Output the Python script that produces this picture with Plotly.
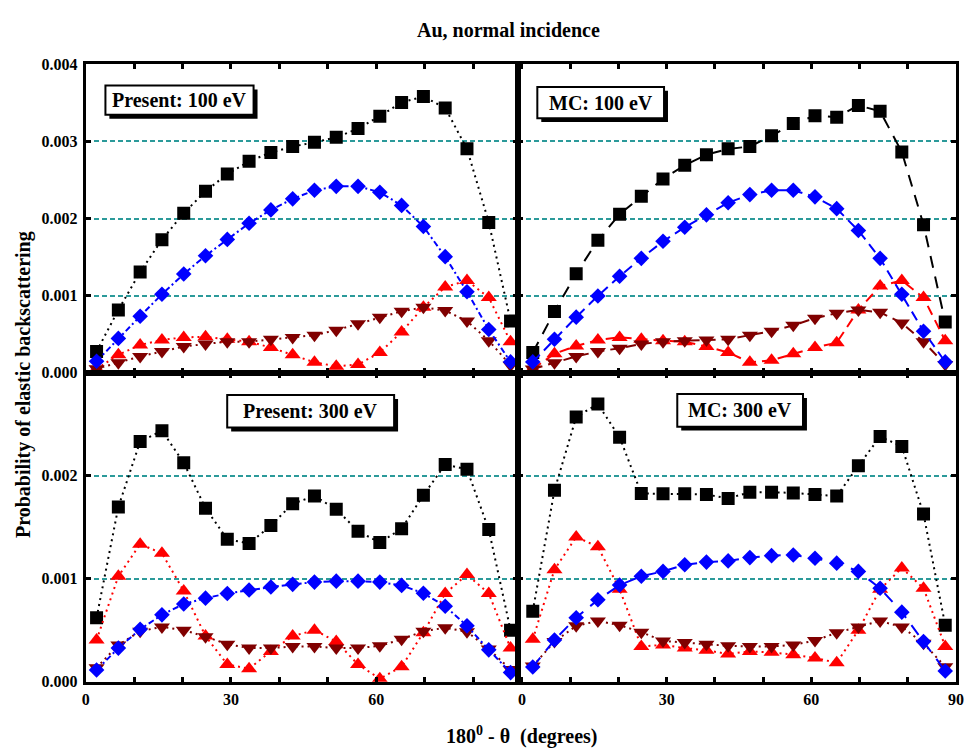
import plotly.graph_objects as go

# Scattering angle bins, 180° - θ (degrees)
angle = [2.25, 6.75, 11.25, 15.75, 20.25, 24.75, 29.25, 33.75, 38.25, 42.75,
         47.25, 51.75, 56.25, 60.75, 65.25, 69.75, 74.25, 78.75, 83.25, 87.75]

# --- Present model, 100 eV (values in units of 1e-3) ---
p100_black = [0.277, 0.816, 1.306, 1.726, 2.069, 2.353, 2.577, 2.742, 2.856, 2.933,
              2.988, 3.052, 3.166, 3.327, 3.505, 3.581, 3.433, 2.903, 1.950, 0.671]
p100_blue = [0.150, 0.447, 0.734, 1.019, 1.281, 1.518, 1.730, 1.938, 2.112, 2.255,
             2.366, 2.417, 2.417, 2.341, 2.170, 1.896, 1.506, 1.052, 0.562, 0.142]
p100_red = [0.050, 0.235, 0.362, 0.426, 0.460, 0.468, 0.435, 0.404, 0.328, 0.235,
            0.137, 0.086, 0.108, 0.264, 0.531, 0.849, 1.112, 1.197, 0.976, 0.404]
p100_dred = [0.053, 0.130, 0.213, 0.277, 0.341, 0.375, 0.404, 0.404, 0.435, 0.460,
             0.489, 0.553, 0.638, 0.722, 0.798, 0.849, 0.807, 0.671, 0.417, 0.100]

# --- MC, 100 eV ---
m100_black = [0.264, 0.794, 1.286, 1.718, 2.056, 2.290, 2.513, 2.691, 2.827, 2.903,
              2.933, 3.072, 3.230, 3.332, 3.314, 3.466, 3.390, 2.862, 1.921, 0.658]
m100_blue = [0.142, 0.435, 0.722, 0.997, 1.252, 1.484, 1.705, 1.887, 2.048, 2.205,
             2.310, 2.366, 2.366, 2.281, 2.128, 1.845, 1.484, 1.019, 0.540, 0.142]
m100_red = [0.050, 0.248, 0.349, 0.426, 0.460, 0.435, 0.417, 0.404, 0.341, 0.264,
            0.137, 0.163, 0.248, 0.328, 0.391, 0.816, 1.125, 1.197, 0.976, 0.417]
m100_dred = [0.050, 0.130, 0.213, 0.277, 0.320, 0.375, 0.404, 0.417, 0.426, 0.435,
             0.489, 0.540, 0.616, 0.709, 0.773, 0.816, 0.785, 0.646, 0.404, 0.108]

# --- Present model, 300 eV ---
p300_black = [0.622, 1.698, 2.333, 2.438, 2.127, 1.686, 1.384, 1.343, 1.517, 1.730,
              1.803, 1.676, 1.463, 1.352, 1.486, 1.812, 2.110, 2.063, 1.479, 0.501]
p300_blue = [0.114, 0.327, 0.510, 0.650, 0.755, 0.812, 0.857, 0.891, 0.920, 0.946,
             0.968, 0.977, 0.977, 0.968, 0.936, 0.860, 0.733, 0.543, 0.310, 0.089]
p300_red = [0.406, 1.025, 1.336, 1.248, 0.882, 0.444, 0.168, 0.127, 0.295, 0.444,
            0.501, 0.390, 0.168, 0.030, 0.146, 0.476, 0.857, 1.041, 0.857, 0.327]
p300_dred = [0.136, 0.358, 0.491, 0.533, 0.501, 0.438, 0.365, 0.327, 0.327, 0.343,
             0.343, 0.327, 0.327, 0.349, 0.412, 0.491, 0.524, 0.486, 0.317, 0.120]

# --- MC, 300 eV ---
m300_black = [0.686, 1.860, 2.571, 2.698, 2.374, 1.829, 1.825, 1.825, 1.819, 1.781,
              1.841, 1.841, 1.834, 1.819, 1.803, 2.098, 2.381, 2.286, 1.629, 0.549]
m300_blue = [0.143, 0.406, 0.622, 0.796, 0.939, 1.025, 1.072, 1.136, 1.162, 1.174,
             1.206, 1.225, 1.231, 1.200, 1.152, 1.072, 0.908, 0.676, 0.390, 0.105]
m300_red = [0.412, 1.089, 1.406, 1.311, 0.898, 0.343, 0.358, 0.327, 0.305, 0.270,
            0.295, 0.286, 0.263, 0.231, 0.184, 0.501, 0.898, 1.105, 0.908, 0.343]
m300_dred = [0.152, 0.390, 0.543, 0.590, 0.549, 0.482, 0.396, 0.381, 0.365, 0.349,
             0.343, 0.343, 0.358, 0.400, 0.476, 0.533, 0.590, 0.533, 0.374, 0.146]

panel_labels = ["Present: 100 eV", "MC: 100 eV", "Present: 300 eV", "MC: 300 eV"]
x_major_left = [0, 30, 60]
x_major_right = [0, 30, 60, 90]
x_minor = [10, 20, 40, 50, 70, 80]
y_tick_vals_top = [0, 0.001, 0.002, 0.003, 0.004]
y_tick_text_top = ["0.000", "0.001", "0.002", "0.003", "0.004"]
y_tick_vals_bot = [0, 0.001, 0.002]
y_tick_text_bot = ["0.000", "0.001", "0.002"]

SERIF = "Liberation Serif"
BLACK, BLUE, RED, DRED = "#000000", "#0000ff", "#ff0000", "#800000"
TEAL = "#2b9a9a"

DOT = "2px,4px"
DASHDOT = "6px,3px,2px,3px"
DASH_LONG = "12px,9px"
DASH_MED = "10px,6px"

fig = go.Figure()


def scale(vals):
    return [v * 1e-3 for v in vals]


def add_series(xa, ya, y, color, symbol, size, dash):
    fig.add_trace(go.Scatter(
        x=angle, y=scale(y), xaxis=xa, yaxis=ya, mode="lines+markers",
        line=dict(color=color, width=2, dash=dash),
        marker=dict(symbol=symbol, size=size, color=color, line=dict(width=0)),
        showlegend=False, hoverinfo="skip"))


panels = [
    ("x", "y", p100_black, p100_blue, p100_red, p100_dred, (DOT, DASHDOT, DOT, DOT)),
    ("x2", "y2", m100_black, m100_blue, m100_red, m100_dred, (DASH_LONG, DASH_MED, DASH_MED, DASH_MED)),
    ("x3", "y3", p300_black, p300_blue, p300_red, p300_dred, (DOT, DASHDOT, DOT, DOT)),
    ("x4", "y4", m300_black, m300_blue, m300_red, m300_dred, (DOT, DASH_LONG, DOT, DOT)),
]

for xa, ya, blk, blu, red, dred, dashes in panels:
    add_series(xa, ya, blk, BLACK, "square", 13, dashes[0])
    add_series(xa, ya, red, RED, "triangle-up", 14, dashes[2])
    add_series(xa, ya, dred, DRED, "triangle-down", 14, dashes[3])
    add_series(xa, ya, blu, BLUE, "diamond", 12, dashes[1])

W, H = 971, 754


def px_x(p):
    return p / W


def px_y(p):
    return 1 - p / H


x_left = [px_x(82.7), px_x(520)]
x_right = [px_x(520), px_x(964)]
y_top = [px_y(373.3), px_y(57.5)]
y_bot = [px_y(689.3), px_y(373.3)]

tick_font = dict(family=SERIF, size=16, color="black", weight="bold")


def xaxis(domain, anchor, rng, major, show):
    return dict(domain=domain, anchor=anchor, range=rng, showgrid=False, zeroline=False,
                tickmode="array", tickvals=major, ticktext=[str(v) for v in major],
                showticklabels=show, ticks="inside", ticklen=5, tickwidth=3,
                tickcolor="black", mirror="ticks", showline=True, linewidth=3,
                linecolor="black", tickfont=tick_font, ticklabelstandoff=1,
                ticklabeloverflow="allow",
                minor=dict(tickmode="array", tickvals=x_minor, ticks="inside",
                           ticklen=5, tickwidth=3, tickcolor="black", showgrid=False))


def yaxis(domain, anchor, rng, vals, text, show):
    return dict(domain=domain, anchor=anchor, range=rng, zeroline=False,
                showgrid=True, gridcolor=TEAL, griddash="5px,3px", gridwidth=1.5,
                tickmode="array", tickvals=vals, ticktext=text,
                showticklabels=show, ticks="inside", ticklen=5, tickwidth=3,
                tickcolor="black", mirror="ticks", showline=True, linewidth=3,
                linecolor="black", tickfont=tick_font, ticklabelstandoff=2)


left_rng = [0, 89.2]
right_rng = [-0.9, 90.0]

fig.update_layout(
    width=W, height=H, margin=dict(l=0, r=0, t=0, b=0),
    plot_bgcolor="white", paper_bgcolor="white",
    xaxis=xaxis(x_left, "y", left_rng, x_major_left, False),
    yaxis=yaxis(y_top, "x", [0, 0.004], y_tick_vals_top, y_tick_text_top, True),
    xaxis2=xaxis(x_right, "y2", right_rng, x_major_right, False),
    yaxis2=yaxis(y_top, "x2", [0, 0.004], y_tick_vals_top, y_tick_text_top, False),
    xaxis3=xaxis(x_left, "y3", left_rng, x_major_left, True),
    yaxis3=yaxis(y_bot, "x3", [0, 0.003], y_tick_vals_bot, y_tick_text_bot, True),
    xaxis4=xaxis(x_right, "y4", right_rng, x_major_right, True),
    yaxis4=yaxis(y_bot, "x4", [0, 0.003], y_tick_vals_bot, y_tick_text_bot, False),
)

# Framed panel labels with a drop shadow
label_boxes = [
    (102.7, 79.3, 252.7, 109.3),
    (540.0, 80.7, 668.3, 112.7),
    (226.0, 396.0, 395.0, 429.3),
    (681.7, 395.0, 809.0, 428.3),
]
shapes = []
annotations = []
for (x0, y0, x1, y1), label in zip(label_boxes, panel_labels):
    shapes.append(dict(type="rect", xref="paper", yref="paper", layer="above",
                       x0=px_x(x0 + 4), x1=px_x(x1 + 4), y0=px_y(y1 + 4), y1=px_y(y0 + 4),
                       fillcolor="black", line=dict(width=0)))
    shapes.append(dict(type="rect", xref="paper", yref="paper", layer="above",
                       x0=px_x(x0), x1=px_x(x1), y0=px_y(y1), y1=px_y(y0),
                       fillcolor="white", line=dict(color="black", width=2)))
    annotations.append(dict(text=label, xref="paper", yref="paper",
                            x=px_x((x0 + x1) / 2), y=px_y((y0 + y1) / 2),
                            xanchor="center", yanchor="middle", showarrow=False,
                            font=dict(family=SERIF, size=20, color="black", weight="bold")))

annotations.append(dict(text="Au, normal incidence", xref="paper", yref="paper",
                        x=px_x(511), y=px_y(22), xanchor="center", yanchor="middle",
                        showarrow=False,
                        font=dict(family=SERIF, size=20, color="black", weight="bold")))
annotations.append(dict(text="Probability of elastic backscattering", xref="paper", yref="paper",
                        x=px_x(20), y=px_y(385), xanchor="center", yanchor="middle",
                        textangle=-90, showarrow=False,
                        font=dict(family=SERIF, size=20, color="black", weight="bold")))
annotations.append(dict(text="180<sup>0</sup> - θ  (degrees)", xref="paper", yref="paper",
                        x=px_x(524), y=px_y(744), xanchor="center", yanchor="middle",
                        showarrow=False,
                        font=dict(family=SERIF, size=20, color="black", weight="bold")))

fig.update_layout(shapes=shapes, annotations=annotations)

fig.write_html("out.html")
